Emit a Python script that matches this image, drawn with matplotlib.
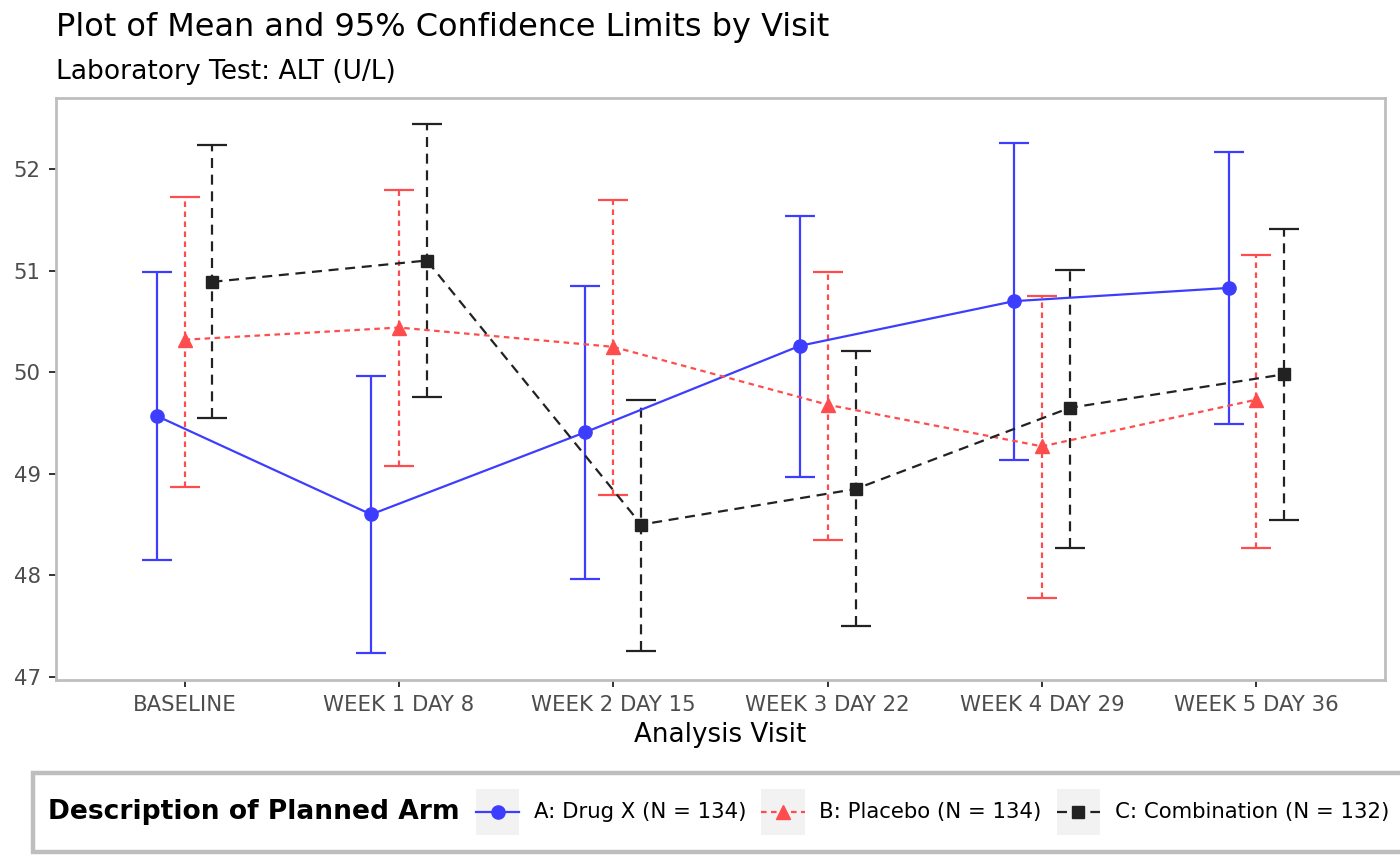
import matplotlib
matplotlib.use("Agg")
import matplotlib.pyplot as plt
from matplotlib.lines import Line2D
from matplotlib.patches import Rectangle
from matplotlib.legend_handler import HandlerLine2D
import numpy as np

visits = ["BASELINE", "WEEK 1 DAY 8", "WEEK 2 DAY 15", "WEEK 3 DAY 22",
          "WEEK 4 DAY 29", "WEEK 5 DAY 36"]
arms = ["A: Drug X (N = 134)", "B: Placebo (N = 134)", "C: Combination (N = 132)"]

mean_a = [49.57, 48.60, 49.41, 50.26, 50.70, 50.83]
lo_a = [48.15, 47.24, 47.96, 48.97, 49.14, 49.49]
hi_a = [50.99, 49.96, 50.85, 51.54, 52.26, 52.17]

mean_b = [50.32, 50.44, 50.25, 49.68, 49.27, 49.73]
lo_b = [48.87, 49.08, 48.79, 48.35, 47.78, 48.27]
hi_b = [51.73, 51.79, 51.70, 50.99, 50.75, 51.15]

mean_c = [50.89, 51.10, 48.50, 48.85, 49.65, 49.98]
lo_c = [49.55, 49.76, 47.26, 47.50, 48.27, 48.55]
hi_c = [52.24, 52.44, 49.73, 50.21, 51.01, 51.41]

colors = ["#3D3DFF", "#FF4D4D", "#222222"]
markers = ["o", "^", "s"]
lstyles = ["-", (0, (2.5, 2.0)), (0, (4.5, 3.0))]
offsets = [-0.13, 0.0, 0.13]
msizes = [9.5, 10.0, 9.0]

plt.rcParams['font.family'] = ['DejaVu Sans']

fig = plt.figure(figsize=(14, 8.65), dpi=100)
ax = fig.add_axes([0.04, 0.2139, 0.9493, 0.6728])

x = np.arange(len(visits))
series = [(mean_a, lo_a, hi_a), (mean_b, lo_b, hi_b), (mean_c, lo_c, hi_c)]
lw = 1.6
for i, (m, lo, hi) in enumerate(series):
    m = np.array(m); lo = np.array(lo); hi = np.array(hi)
    xx = x + offsets[i]
    eb = ax.errorbar(xx, m, yerr=[m - lo, hi - m], fmt='none', ecolor=colors[i],
                     elinewidth=lw, capsize=10.5, capthick=lw, zorder=2)
    for lc in eb[2]:
        lc.set_linestyle(lstyles[i])
    ax.plot(xx, m, color=colors[i], linestyle=lstyles[i], linewidth=lw,
            marker=markers[i], markersize=msizes[i], zorder=3)

ax.set_xlim(-0.6, 5.6)
ax.set_ylim(46.97, 52.70)
ax.set_xticks(x)
ax.set_xticklabels(visits)
ax.set_yticks([47, 48, 49, 50, 51, 52])
ax.tick_params(axis='both', labelsize=15.3, labelcolor='#4D4D4D', color='#333333',
               length=5, width=1.4)
ax.tick_params(axis='x', pad=5.5)
ax.tick_params(axis='y', pad=6.0)
for sp in ax.spines.values():
    sp.set_color('#BEBEBE')
    sp.set_linewidth(2)
ax.set_xlabel("Analysis Visit", fontsize=18.8, color='black', labelpad=5.5)

fig.text(0.04, 0.968, "Plot of Mean and 95% Confidence Limits by Visit",
         fontsize=23, va='center', ha='left')
fig.text(0.04, 0.917, "Laboratory Test: ALT (U/L)", fontsize=19.1, va='center', ha='left')

# Legend frame
frame = Rectangle((33 / 1400, 0.015), 1.05, 0.0914, transform=fig.transFigure,
                  facecolor='white', edgecolor='#BEBEBE', linewidth=3.2, clip_on=False)
fig.add_artist(frame)
fig.text(48 / 1400, 0.0613, "Description of Planned Arm", fontsize=19.1,
         fontweight='bold', va='center', ha='left')


class KeyHandler(HandlerLine2D):
    def create_artists(self, legend, orig_handle, xdescent, ydescent, width,
                       height, fontsize, trans):
        rect = Rectangle((-xdescent, -ydescent), width, height,
                         facecolor='#F2F2F2', edgecolor='none', transform=trans)
        arts = super().create_artists(legend, orig_handle, xdescent, ydescent,
                                      width, height, fontsize, trans)
        cy = height / 2.0 - ydescent
        for a in arts:
            yd = np.asarray(a.get_ydata(), dtype=float)
            a.set_ydata(np.full_like(yd, cy))
        return [rect] + list(arts)


handles = [Line2D([0], [0], color=colors[i], linestyle=lstyles[i], linewidth=lw,
                  marker=markers[i], markersize=msizes[i]) for i in range(3)]
leg = fig.legend(handles, arms, loc='center left', bbox_to_anchor=(476 / 1400, 0.0613),
                 ncol=3, frameon=False, fontsize=15.3, handlelength=2.03,
                 handleheight=2.95, handletextpad=0.7, columnspacing=0.7,
                 borderpad=0, borderaxespad=0,
                 handler_map={Line2D: KeyHandler(numpoints=1)})

fig.savefig("out.png", dpi=100)
